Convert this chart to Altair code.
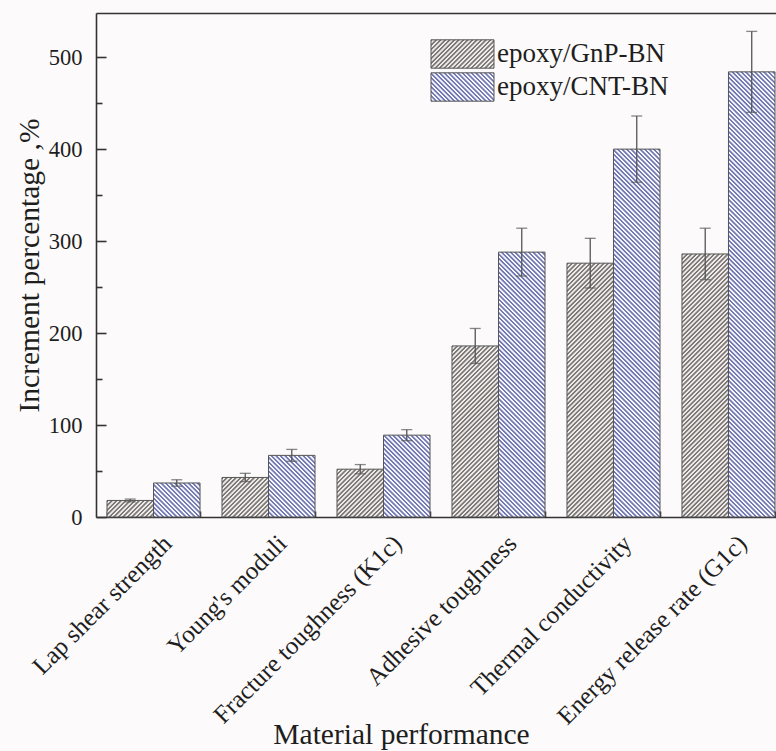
import math
import altair as alt

# ---------------- data ----------------
categories = [
    "Lap shear strength",
    "Young's moduli",
    "Fracture toughness (K1c)",
    "Adhesive toughness",
    "Thermal conductivity",
    "Energy release rate (G1c)",
]
series = ["epoxy/GnP-BN", "epoxy/CNT-BN"]
gnp_values = [18, 43, 52, 186, 276, 286]
gnp_errors = [1.5, 4.5, 5, 19, 27, 28]
cnt_values = [37, 67, 89, 288, 400, 484]
cnt_errors = [3.5, 6.5, 6, 26, 36, 44]
y_major = [0, 100, 200, 300, 400, 500]
y_minor = [50, 150, 250, 350, 450]

# ---------------- layout / style ----------------
FONT = "Liberation Serif"
TXT = "#1e1e1e"
AX = "#333333"
PLOT_W, PLOT_H = 680, 504
Y_MAX = 548
X_RANGE = [0, 690]
P_IN, P_OUT = 0.191, 0.0957
STEP = X_RANGE[1] / (len(categories) - P_IN + 2 * P_OUT)
BAR_W = STEP * (1 - P_IN) / 2
PX = PLOT_H / Y_MAX
SWATCH_W, SWATCH_H = 63, 28.35

styles = {
    "epoxy/GnP-BN": {"line": "#7d7977", "bg": "#eeebea", "dir": "/"},
    "epoxy/CNT-BN": {"line": "#7279b3", "bg": "#f7f7fb", "dir": "\\"},
}


def hatch(W, H, line, bg, direction, period=3.2):
    k = (W + H) / (W * W + H * H)
    D = (W + H) / math.sqrt(2)
    stops = []
    n = int(D / period) + 2
    done = False
    for i in range(n):
        base = i * period / D
        for frac, col in ((0.0, line), (0.35, line), (0.5, bg), (0.85, bg)):
            t = base + frac * period / D
            if t > 1:
                done = True
                break
            stops.append({"offset": round(t, 5), "color": col})
        if done:
            break
    if direction == "/":
        g = {"gradient": "linear", "x1": 0, "y1": 0, "x2": round(k * W, 6), "y2": round(k * H, 6)}
    else:
        g = {"gradient": "linear", "x1": 0, "y1": 1, "x2": round(k * W, 6), "y2": round(1 - k * H, 6)}
    g["stops"] = stops
    return g


def to_expr_literal(g):
    stops = ",".join("{offset:%s,color:'%s'}" % (s["offset"], s["color"]) for s in g["stops"])
    return "{gradient:'linear',x1:%s,y1:%s,x2:%s,y2:%s,stops:[%s]}" % (
        g["x1"], g["y1"], g["x2"], g["y2"], stops)


records = []
for s, vals, errs in ((series[0], gnp_values, gnp_errors), (series[1], cnt_values, cnt_errors)):
    st = styles[s]
    for c, v, e in zip(categories, vals, errs):
        records.append({
            "category": c,
            "series": s,
            "value": v,
            "lo": v - e,
            "hi": v + e,
            "grad": hatch(BAR_W, v * PX, st["line"], st["bg"], st["dir"]),
        })

legend_fill_expr = "datum.value === '%s' ? %s : %s" % (
    series[0],
    to_expr_literal(hatch(SWATCH_W, SWATCH_H, styles[series[0]]["line"], styles[series[0]]["bg"], "/")),
    to_expr_literal(hatch(SWATCH_W, SWATCH_H, styles[series[1]]["line"], styles[series[1]]["bg"], "\\")),
)

data = alt.Data(values=records)

xscale = alt.Scale(domain=categories, range=X_RANGE, paddingInner=P_IN, paddingOuter=P_OUT)
yscale = alt.Scale(domain=[0, Y_MAX], nice=False, zero=True)
xoff = alt.XOffset("series:N", scale=alt.Scale(domain=series, paddingInner=0, paddingOuter=0), sort=series)

x_main_axis = alt.Axis(
    title="Material performance", orient="bottom", ticks=False, domain=True,
    domainColor=AX, domainWidth=1.6, labelAngle=-45, labelAlign="right",
    labelBaseline="middle", labelOffset=14, labelPadding=22, labelFont=FONT,
    labelFontSize=25, labelColor=TXT, labelLimit=400, labelOverlap=False,
    titleFont=FONT, titleFontSize=29.5, titleFontWeight="normal", titleColor=TXT,
    titleX=305, titleY=226, titleBaseline="alphabetic", titleAlign="center", grid=False,
)
y_main_axis = alt.Axis(
    title="Increment percentage ,%", orient="left", values=y_major, ticks=False,
    labelPadding=14, labelFont=FONT, labelFontSize=22.5, labelColor=TXT,
    domainColor=AX, domainWidth=1.6, titleFont=FONT, titleFontSize=29.5,
    titleFontWeight="normal", titleColor=TXT, titlePadding=4, grid=False,
)

hatched = alt.Chart(data).mark_bar(stroke="#555555", strokeWidth=1).encode(
    x=alt.X("category:N", scale=xscale, sort=categories, axis=x_main_axis),
    xOffset=xoff,
    y=alt.Y("value:Q", scale=yscale, axis=y_main_axis),
    fill=alt.Fill("grad:N", scale=None, legend=None),
    opacity=alt.Opacity(
        "series:N",
        scale=alt.Scale(domain=series, range=[1, 1]),
        sort=series,
        legend=alt.Legend(
            title=None, orient="none", legendX=350, legendY=24.5,
            symbolType="M-2,-0.9H2V0.9H-2Z", symbolSize=992,
            symbolFillColor={"expr": legend_fill_expr},
            symbolStrokeColor="#555555", symbolStrokeWidth=1,
            labelFont=FONT, labelFontSize=27, labelColor=TXT, labelOffset=18,
            padding=0, rowPadding=0, labelLimit=400,
        ),
    ),
)

rule = alt.Chart(data).mark_rule(color="#555555", strokeWidth=1.3).encode(
    x=alt.X("category:N", scale=xscale, sort=categories,
            axis=alt.Axis(orient="bottom", offset=-6, tickSize=6, ticks=True,
                          tickColor=AX, tickWidth=1.6, labels=False, domain=False,
                          title=None, tickBand="extent", grid=False)),
    xOffset=xoff,
    y=alt.Y("lo:Q", scale=yscale,
            axis=alt.Axis(orient="left", values=y_major, offset=-10, tickSize=10,
                          tickColor=AX, tickWidth=1.6, labels=False, domain=False,
                          title=None, grid=False)),
    y2="hi:Q",
)

cap_hi = alt.Chart(data).mark_tick(color="#555555", size=11, thickness=1.3, orient="horizontal").encode(
    x=alt.X("category:N", scale=xscale, sort=categories,
            axis=alt.Axis(orient="top", labels=False, ticks=False, domain=True,
                          domainColor=AX, domainWidth=1.6, title=None, grid=False)),
    xOffset=xoff,
    y=alt.Y("hi:Q", scale=yscale,
            axis=alt.Axis(orient="left", values=y_minor, offset=-6, tickSize=6,
                          tickColor=AX, tickWidth=1.6, labels=False, domain=False,
                          title=None, grid=False)),
)

cap_lo = alt.Chart(data).mark_tick(color="#555555", size=11, thickness=1.3, orient="horizontal").encode(
    x=alt.X("category:N", scale=xscale, sort=categories, axis=None),
    xOffset=xoff,
    y=alt.Y("lo:Q", scale=yscale, axis=None),
)

chart = (
    alt.layer(hatched, rule, cap_hi, cap_lo)
    .resolve_axis(x="independent", y="independent")
    .properties(
        width=PLOT_W, height=PLOT_H,
        padding={"left": 96, "top": 13, "right": 0, "bottom": 234},
        autosize=alt.AutoSizeParams(type="none"),
        background="#fcfafa",
    )
    .configure(font=FONT)
    .configure_axis(labelFont=FONT, titleFont=FONT)
    .configure_legend(labelFont=FONT)
    .configure_view(stroke=None)
)

chart.save("out.html", embed_options={"renderer": "svg", "actions": False})
